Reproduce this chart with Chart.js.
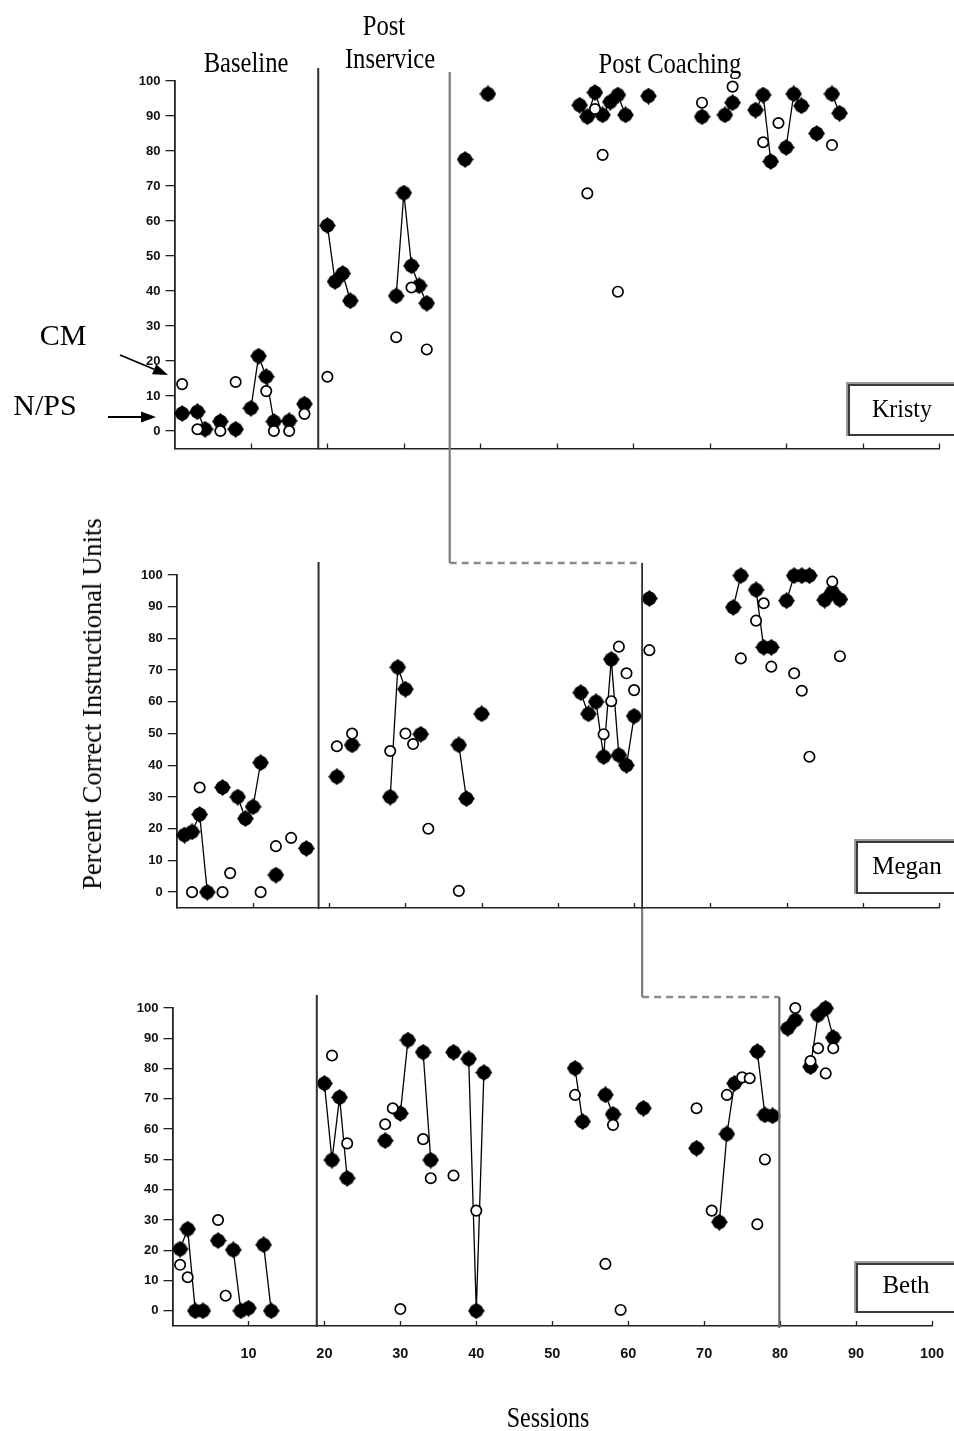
<!DOCTYPE html>
<html>
<head>
<meta charset="utf-8">
<script src="https://cdn.jsdelivr.net/npm/chart.js@4.4.1/dist/chart.umd.min.js"></script>
<style>
html,body{margin:0;padding:0;background:#fff;}
#page{position:relative;width:954px;height:1431px;overflow:hidden;background:#fff;}
canvas.panel{position:absolute;left:0;z-index:1;}
#overlay{position:absolute;left:0;top:0;z-index:2;pointer-events:none;}
.lbl{position:absolute;font-family:"Liberation Serif","Times New Roman",serif;color:#000;white-space:nowrap;line-height:1;z-index:4;}
.box{position:absolute;box-sizing:border-box;border:2px solid #3a3a3a;background:#fff;z-index:3;box-shadow:-1px -1px 0 1px #9a9a9a;}
</style>
</head>
<body>
<div id="page">
  <canvas id="cKristy" class="panel" width="954" height="400" style="top:60px"></canvas>
  <canvas id="cMegan" class="panel" width="954" height="360" style="top:560px"></canvas>
  <canvas id="cBeth" class="panel" width="954" height="390" style="top:990px"></canvas>
  <canvas id="overlay" width="954" height="1431"></canvas>

  <div class="lbl" style="font-size:30px;left:246px;top:47px;transform:translateX(-50%) scaleX(0.82);">Baseline</div>
  <div class="lbl" style="font-size:30px;left:384px;top:10px;transform:translateX(-50%) scaleX(0.82);">Post</div>
  <div class="lbl" style="font-size:30px;left:390px;top:43px;transform:translateX(-50%) scaleX(0.82);">Inservice</div>
  <div class="lbl" style="font-size:30px;left:670px;top:48px;transform:translateX(-50%) scaleX(0.82);">Post Coaching</div>

  <div class="lbl" style="font-size:30px;left:63px;top:320px;transform:translateX(-50%);">CM</div>
  <div class="lbl" style="font-size:30px;left:45px;top:390px;transform:translateX(-50%);">N/PS</div>

  <div class="lbl" style="font-size:28px;left:92px;top:704px;transform:translate(-50%,-50%) rotate(-90deg) scaleX(0.95);">Percent Correct Instructional Units</div>
  <div class="lbl" style="font-size:30px;left:548px;top:1402px;transform:translateX(-50%) scaleX(0.8);">Sessions</div>

  <div class="box" style="left:848px;top:384px;width:120px;height:52px;"></div>
  <div class="lbl" style="font-size:25px;left:902px;top:396px;transform:translateX(-50%) scaleX(0.96);">Kristy</div>
  <div class="box" style="left:856px;top:841px;width:120px;height:53px;"></div>
  <div class="lbl" style="font-size:25px;left:907px;top:853px;transform:translateX(-50%);">Megan</div>
  <div class="box" style="left:856px;top:1263px;width:120px;height:50px;"></div>
  <div class="lbl" style="font-size:25px;left:906px;top:1272px;transform:translateX(-50%);">Beth</div>
</div>

<script>
// ---------------- DATA ----------------
const xTickValues = [10, 20, 30, 40, 50, 60, 70, 80, 90, 100];
const yTickValues = [0, 10, 20, 30, 40, 50, 60, 70, 80, 90, 100];

// Kristy
const kristyNpsSessions = [1,3,4,6,8,10,11,12,13,15,17, 20,21,22,23, 29,30,31,32,33, 38,41, 53,54,55,56,57,58,59, 62, 69, 72,73, 76,77,78, 80,81,82, 84, 86,87];
const kristyNpsValues   = [5,5.5,0.5,2.7,0.5,6.5,21.4,15.5,2.7,2.9,7.7, 58.7,42.7,45,37.2, 38.6,68,47.2,41.5,36.5, 77.6,96.3, 93.1,89.8,96.7,90.3,94,96,90.3, 95.7, 89.8, 90.3,93.8, 91.7,96,77, 81,96.3,92.9, 85, 96.3,90.8];
const kristyCmSessions  = [1,3,6,8,12,13,15,17, 20,29,31,33, 54,55,56,58, 69,73,77,79,86];
const kristyCmValues    = [13.4,0.5,0,14,11.4,0,0,4.9, 15.5,26.8,41,23.3, 67.9,92,78.9,39.8, 93.8,98.4,82.5,88,81.7];

// Megan
const meganNpsSessions = [1,2,3,4,6,8,9,10,11,13,17, 21,23,28,29,30,32,37,38,40, 53,54,55,56,57,58,59,60, 62, 73,74,76,77,78,80,81,82,83,85,86,87];
const meganNpsValues   = [18,19,24.5,0,33,30,23.2,26.9,40.8,5.4,13.8, 36.4,46.4,30,70.9,64,49.8,46.4,29.5,56.2, 62.9,56.2,60,42.7,73.4,43.2,40,55.5, 92.6, 89.8,99.8,95.3,77.2,77.2,91.9,99.8,99.8,99.8,92.1,94.7,92.3];
const meganCmSessions  = [2,3,6,7,11,13,15, 21,23,28,30,31,33,37, 56,57,58,59,60,62, 74,76,77,78,81,82,83,86,87];
const meganCmValues    = [0,33,0,6,0,14.5,17.1, 46,50,44.5,50,46.7,20,0.4, 49.8,60.2,77.4,69,63.7,76.3, 73.7,85.6,91.1,71.1,69,63.5,42.7,97.9,74.4];

// Beth
const bethNpsSessions = [1,2,3,4,6,8,9,10,12,13, 20,21,22,23,28,30,31,33,34,37,39,40,41, 53,54,57,58,62,69,72,73,74,77,78,79, 81,82,84,85,86,87];
const bethNpsValues   = [20.4,27,0,0,23.2,20.1,0,0.9,21.8,0, 75.1,49.8,70.5,43.8,56.2,65.2,89.4,85.4,49.8,85.4,83.2,0,78.7, 80.1,62.5,71.3,64.9,66.9,53.7,29.3,58.4,75.1,85.6,64.7,64.4, 93.3,96,80.6,97.7,99.9,90.2];
const bethCmSessions  = [1,2,6,7, 21,23,28,29,30,33,34,37,40, 53,57,58,59,69,71,73,75,76,77,78, 82,84,85,86,87];
const bethCmValues    = [15.2,11.1,30,5, 84.3,55.3,61.6,66.9,0.6,56.7,43.8,44.7,33.1, 71.3,15.5,61.4,0.3,66.9,33.1,71.3,77.1,76.8,28.6,50, 100,82.5,86.7,78.4,86.7];

// Phase change lines (session positions), per panel: Kristy, Megan, Beth
const inservicePhase = [18.8, 18.6, 19.0];
const coachingPhase  = [36.0, 61.05, 79.9];

// ---------------- STYLE ----------------
Chart.defaults.font.family = '"Liberation Sans", Arial, sans-serif';
Chart.defaults.color = '#111';

function makeFilledMarker() {
  const c = document.createElement('canvas');
  c.width = 17; c.height = 17;
  const g = c.getContext('2d');
  const cx = 8.5, cy = 8.5;
  g.fillStyle = '#000';
  g.beginPath();
  g.moveTo(cx, cy - 8.5); g.lineTo(cx + 8.5, cy); g.lineTo(cx, cy + 8.5); g.lineTo(cx - 8.5, cy); g.closePath();
  g.fill();
  g.beginPath(); g.arc(cx, cy, 7.1, 0, Math.PI * 2); g.fill();
  return c;
}
const filledMarker = makeFilledMarker();

const innerXTicks = {
  id: 'innerXTicks',
  afterDraw(chart) {
    const ctx = chart.ctx, xs = chart.scales.x, yb = chart.chartArea.bottom;
    ctx.save();
    ctx.strokeStyle = '#222'; ctx.lineWidth = 1.3;
    xTickValues.forEach(v => {
      const x = Math.round(xs.getPixelForValue(v)) + 0.5;
      ctx.beginPath(); ctx.moveTo(x, yb); ctx.lineTo(x, yb - 5); ctx.stroke();
    });
    ctx.restore();
  }
};

function buildChart(id, npsS, npsV, cmS, cmV, geo) {
  return new Chart(document.getElementById(id), {
    type: 'scatter',
    data: {
      datasets: [
        {
          label: 'CM',
          data: cmS.map((s, i) => ({ x: s, y: cmV[i] })),
          pointStyle: 'circle', pointRadius: 5.2, pointHoverRadius: 5.2,
          pointBackgroundColor: '#fff', pointBorderColor: '#000', pointBorderWidth: 1.7,
          showLine: false, clip: false
        },
        {
          label: 'N/PS',
          data: npsS.map((s, i) => ({ x: s, y: npsV[i] })),
          pointStyle: filledMarker, pointRadius: 8, pointHoverRadius: 8,
          showLine: true, borderColor: '#000', borderWidth: 1.3, clip: false,
          segment: {
            borderColor: c => (npsS[c.p1DataIndex] - npsS[c.p0DataIndex] === 1) ? '#000' : 'rgba(0,0,0,0)'
          }
        }
      ]
    },
    options: {
      responsive: false, animation: false, events: [],
      layout: { padding: { top: geo.padTop, right: geo.padRight, left: 0, bottom: 0 } },
      plugins: { legend: { display: false }, tooltip: { enabled: false } },
      scales: {
        x: {
          type: 'linear', min: 0, max: 100,
          afterFit: s => { s.height = geo.xHeight; s.paddingLeft = 0; s.paddingRight = 0; },
          afterBuildTicks: s => { s.ticks = xTickValues.map(v => ({ value: v })); },
          ticks: { display: geo.showX, padding: 11, font: { size: 14.5, weight: 'bold' }, color: '#111' },
          grid: { display: false },
          border: { display: true, color: '#222', width: 1.6 }
        },
        y: {
          type: 'linear', min: -5, max: 100,
          afterFit: s => { s.width = geo.yWidth; s.paddingTop = 0; s.paddingBottom = 0; },
          afterBuildTicks: s => { s.ticks = yTickValues.map(v => ({ value: v })); },
          ticks: { padding: 5, font: { size: 13, weight: 'bold' }, color: '#111' },
          grid: { display: true, drawOnChartArea: false, drawTicks: true, tickLength: 9, color: '#222', lineWidth: 1.3 },
          border: { display: true, color: '#222', width: 1.8 }
        }
      }
    },
    plugins: [innerXTicks]
  });
}

const chK = buildChart('cKristy', kristyNpsSessions, kristyNpsValues, kristyCmSessions, kristyCmValues,
  { padTop: 21, padRight: 15, xHeight: 11.5, yWidth: 174.5, showX: false });
const chM = buildChart('cMegan', meganNpsSessions, meganNpsValues, meganCmSessions, meganCmValues,
  { padTop: 15, padRight: 15, xHeight: 12, yWidth: 176.8, showX: false });
const chB = buildChart('cBeth', bethNpsSessions, bethNpsValues, bethCmSessions, bethCmValues,
  { padTop: 18, padRight: 22, xHeight: 54, yWidth: 172.5, showX: true });

// ---------------- OVERLAY: phase lines & arrows ----------------
const ov = document.getElementById('overlay').getContext('2d');
function px(c, v) { return c.scales.x.getPixelForValue(v) + c.canvas.offsetLeft; }
function py(c, v) { return c.scales.y.getPixelForValue(v) + c.canvas.offsetTop; }
function vline(x, y0, y1, color, w) {
  ov.save(); ov.strokeStyle = color; ov.lineWidth = w; ov.setLineDash([]);
  ov.beginPath(); ov.moveTo(x, y0); ov.lineTo(x, y1); ov.stroke(); ov.restore();
}
function dashH(x0, x1, y) {
  ov.save(); ov.strokeStyle = '#8a8a8a'; ov.lineWidth = 2.6; ov.setLineDash([7, 5]);
  ov.beginPath(); ov.moveTo(x0, y); ov.lineTo(x1, y); ov.stroke(); ov.restore();
}
const charts = [chK, chM, chB];
charts.forEach((c, i) => {
  const x = px(c, inservicePhase[i]);
  vline(x, py(c, 100) - 13, py(c, -5) + 1, '#2e2e2e', 2);
});
const xA = px(chK, coachingPhase[0]);
const xB = px(chM, coachingPhase[1]);
const xC = px(chB, coachingPhase[2]);
const yA = py(chM, 100) - 12;
const yB = py(chB, 100) - 11;
vline(xA, py(chK, 100) - 9, yA, '#7d7d7d', 2.2);
dashH(xA, xB, yA);
vline(xB, yA, py(chM, -5) + 1, '#2e2e2e', 1.8);
vline(xB, py(chM, -5) + 1, yB, '#7d7d7d', 2.2);
dashH(xB, xC, yB);
vline(xC, yB, py(chB, -5) + 2, '#666', 2.2);

function arrow(x0, y0, x1, y1) {
  const a = Math.atan2(y1 - y0, x1 - x0), L = 15, W = 5.5;
  ov.save(); ov.strokeStyle = '#000'; ov.fillStyle = '#000'; ov.lineWidth = 1.8;
  const bx = x1 - L * Math.cos(a), by = y1 - L * Math.sin(a);
  ov.beginPath(); ov.moveTo(x0, y0); ov.lineTo(bx, by); ov.stroke();
  ov.beginPath(); ov.moveTo(x1, y1);
  ov.lineTo(bx + W * Math.sin(a), by - W * Math.cos(a));
  ov.lineTo(bx - W * Math.sin(a), by + W * Math.cos(a));
  ov.closePath(); ov.fill(); ov.restore();
}
arrow(120, 355, 168, 375);
arrow(108, 417, 156, 417);
</script>
</body>
</html>
